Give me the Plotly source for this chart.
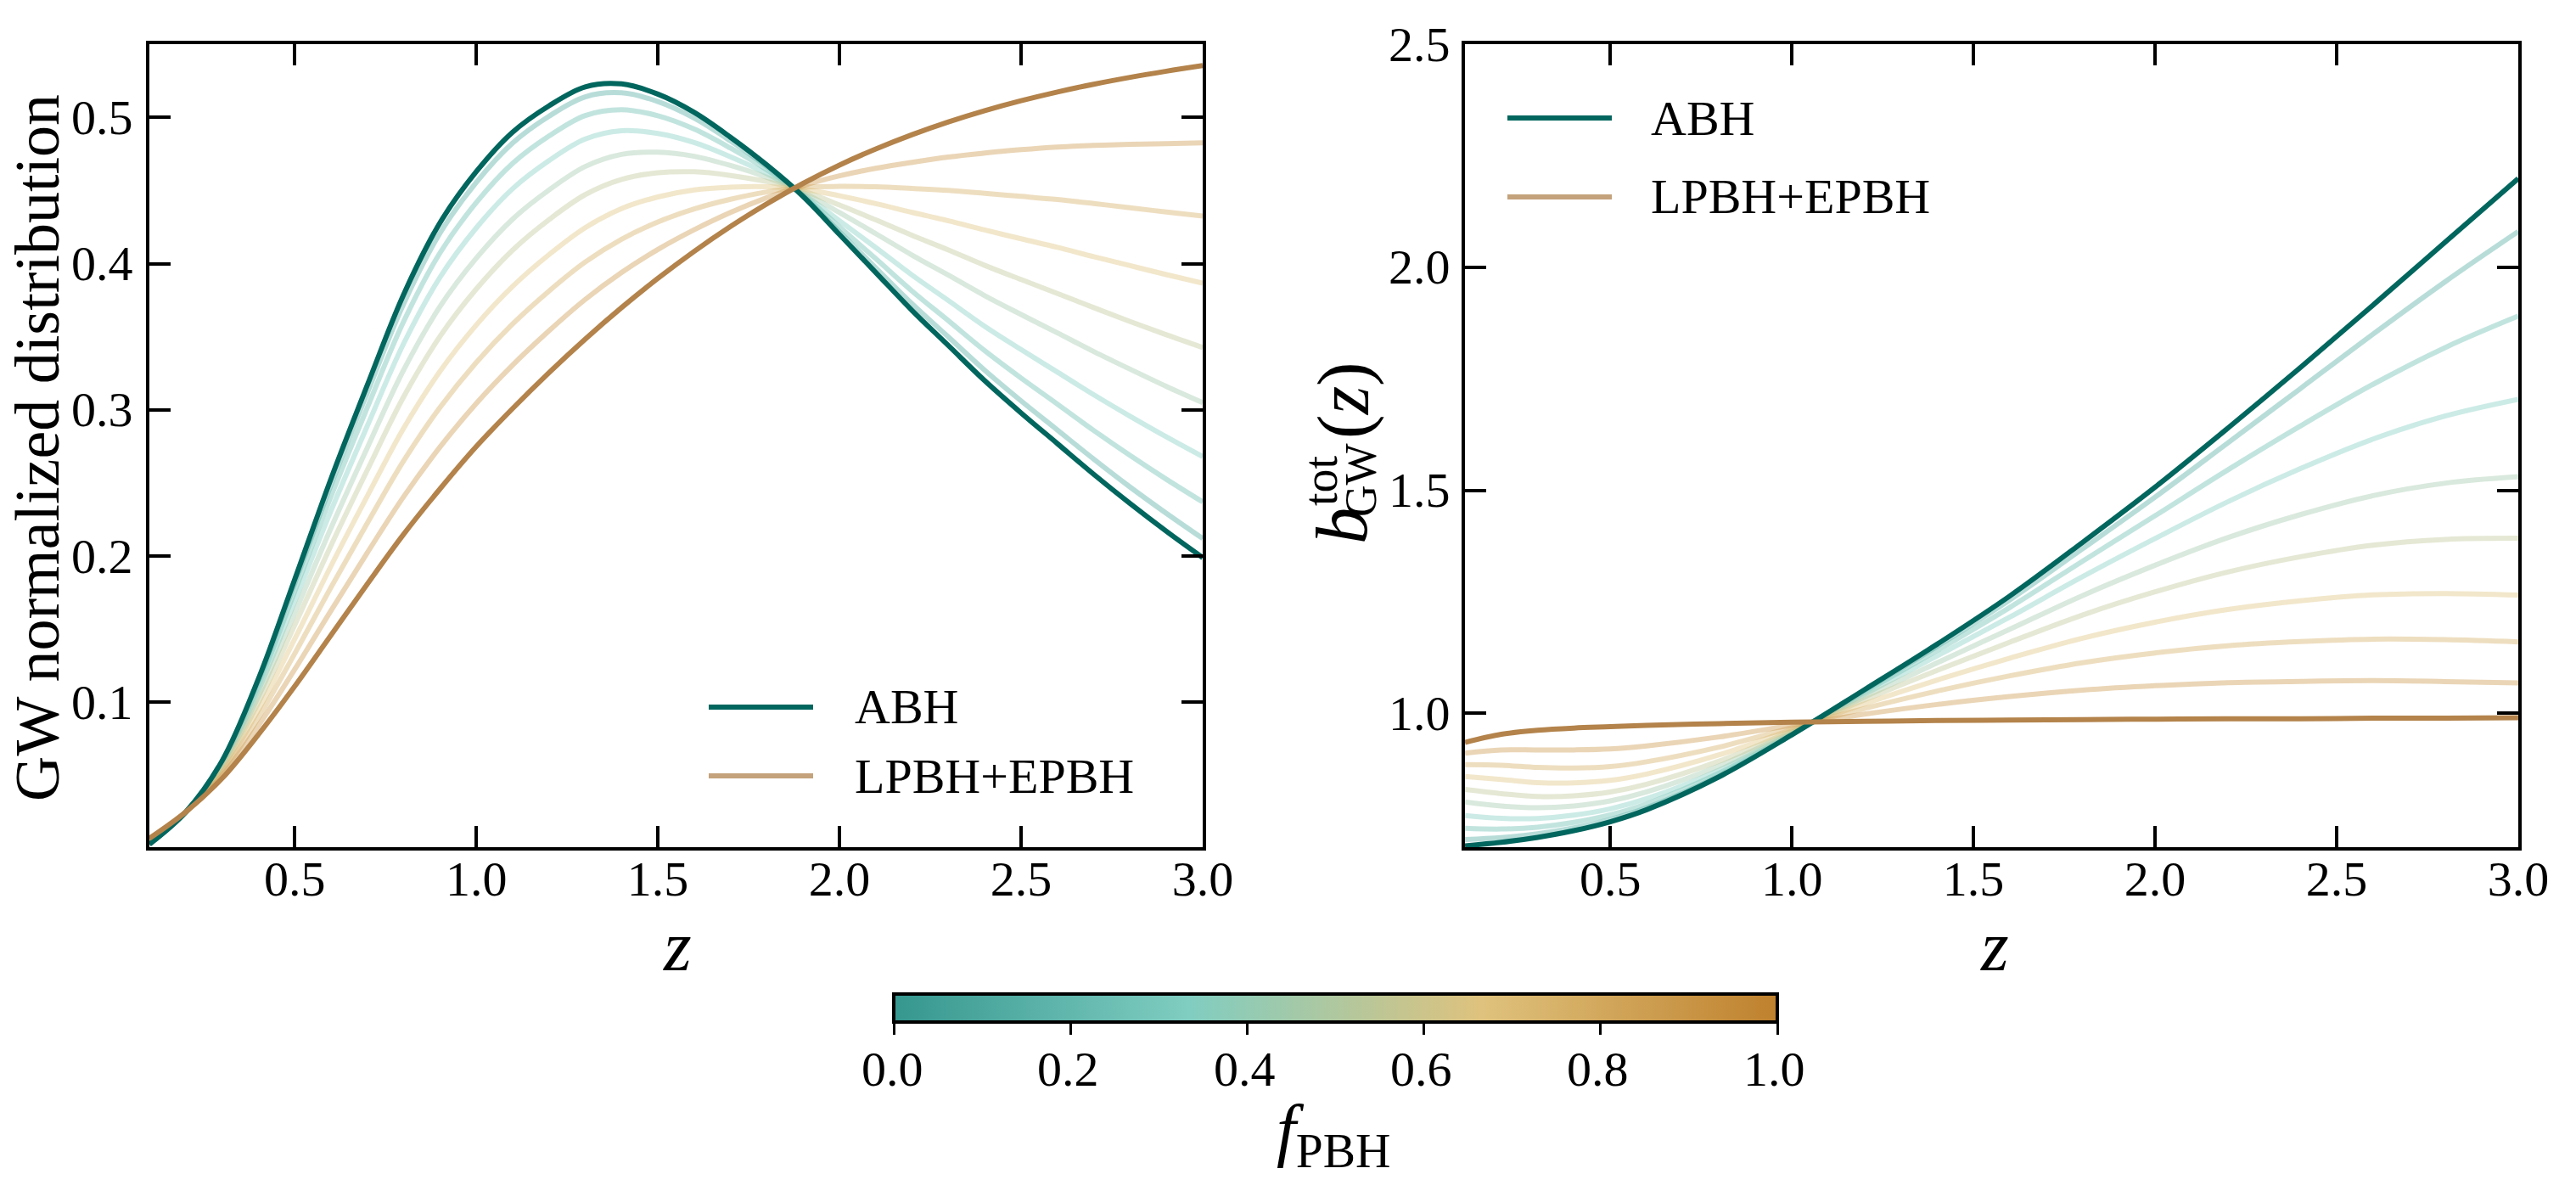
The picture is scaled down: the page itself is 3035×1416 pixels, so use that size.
import plotly.graph_objects as go

W, H = 3035, 1416
FONT = "Liberation Serif, DejaVu Serif, serif"


def px(x):
    return x / W


def py(y):
    return 1 - y / H


# ---------------- data ----------------
F_PBH = [0.0, 0.111, 0.222, 0.333, 0.444, 0.556, 0.667, 0.778, 0.889, 1.0]

# left panel: GW normalized distribution vs z
Z_L = [0.1, 0.2, 0.3, 0.4, 0.5, 0.6, 0.7, 0.8, 0.9, 1.0, 1.1, 1.2, 1.3, 1.4, 1.5,
       1.6, 1.7, 1.8, 1.9, 2.0, 2.1, 2.2, 2.3, 2.4, 2.5, 2.6, 2.7, 2.8, 2.9, 3.0]
dist_abh = [0.003, 0.025, 0.060, 0.116, 0.184, 0.253, 0.317, 0.379, 0.428, 0.463, 0.490, 0.508, 0.521, 0.523, 0.516,
            0.5035, 0.4865, 0.4675, 0.446, 0.420, 0.394, 0.368, 0.344, 0.320, 0.298, 0.277, 0.256, 0.236, 0.217, 0.199]
dist_f1 = [0.0032, 0.025, 0.0595, 0.1145, 0.1812, 0.2488, 0.3117, 0.3726, 0.4209, 0.4557, 0.4826, 0.5009, 0.5142, 0.5169, 0.5109,
           0.4996, 0.4840, 0.4664, 0.4463, 0.4218, 0.3972, 0.3726, 0.3499, 0.3271, 0.3062, 0.2863, 0.2664, 0.2473, 0.2293, 0.2121]
dist_f2 = [0.0035, 0.025, 0.0586, 0.1117, 0.1758, 0.2409, 0.3016, 0.3605, 0.4074, 0.4418, 0.4686, 0.4873, 0.5014, 0.5054, 0.5012,
           0.4921, 0.4791, 0.4643, 0.4469, 0.4252, 0.4034, 0.3813, 0.3610, 0.3405, 0.3218, 0.3040, 0.2860, 0.2689, 0.2526, 0.2371]
dist_f3 = [0.0038, 0.025, 0.0575, 0.1082, 0.1690, 0.2311, 0.2891, 0.3454, 0.3907, 0.4245, 0.4513, 0.4705, 0.4853, 0.4910, 0.4891,
           0.4829, 0.4731, 0.4616, 0.4476, 0.4294, 0.4110, 0.3922, 0.3748, 0.3572, 0.3413, 0.3259, 0.3104, 0.2957, 0.2816, 0.2681]
dist_f4 = [0.0043, 0.025, 0.0562, 0.1040, 0.1610, 0.2193, 0.2742, 0.3273, 0.3707, 0.4038, 0.4305, 0.4504, 0.4665, 0.4748, 0.4763,
           0.4735, 0.4672, 0.4591, 0.4488, 0.4350, 0.4206, 0.4059, 0.3922, 0.3782, 0.3653, 0.3527, 0.3400, 0.3279, 0.3161, 0.3050]
dist_f5 = [0.0047, 0.025, 0.0549, 0.0998, 0.1528, 0.2073, 0.2589, 0.3090, 0.3503, 0.3827, 0.4093, 0.4301, 0.4473, 0.4577, 0.4622,
           0.4629, 0.4604, 0.4562, 0.4498, 0.4402, 0.4300, 0.4194, 0.4094, 0.3989, 0.3892, 0.3797, 0.3700, 0.3605, 0.3514, 0.3427]
dist_f6 = [0.0052, 0.025, 0.0533, 0.0948, 0.1433, 0.1933, 0.2411, 0.2875, 0.3264, 0.3581, 0.3845, 0.4062, 0.4247, 0.4377, 0.4457,
           0.4505, 0.4524, 0.4527, 0.4511, 0.4465, 0.4411, 0.4351, 0.4294, 0.4231, 0.4171, 0.4112, 0.4048, 0.3987, 0.3926, 0.3867]
dist_f7 = [0.0058, 0.025, 0.0517, 0.0896, 0.1333, 0.1787, 0.2226, 0.2652, 0.3017, 0.3325, 0.3588, 0.3813, 0.4012, 0.4168, 0.4286,
           0.4375, 0.4441, 0.4491, 0.4523, 0.4529, 0.4526, 0.4515, 0.4502, 0.4482, 0.4461, 0.4439, 0.4412, 0.4383, 0.4354, 0.4326]
dist_f8 = [0.0064, 0.025, 0.0499, 0.0840, 0.1225, 0.1628, 0.2024, 0.2407, 0.2746, 0.3045, 0.3307, 0.3541, 0.3756, 0.3940, 0.4098,
           0.4233, 0.4351, 0.4452, 0.4535, 0.4601, 0.4653, 0.4694, 0.4730, 0.4757, 0.4780, 0.4798, 0.4809, 0.4817, 0.4822, 0.4827]
dist_pbh = [0.007, 0.025, 0.048, 0.078, 0.111, 0.146, 0.181, 0.215, 0.246, 0.275, 0.301, 0.3255, 0.3485, 0.370, 0.390,
            0.4085, 0.4255, 0.441, 0.455, 0.4675, 0.4785, 0.4883, 0.497, 0.5047, 0.5115, 0.5175, 0.5228, 0.5275, 0.5317, 0.5355]

# right panel: total GW bias b_GW^tot(z) vs z
Z_R = [0.1, 0.2, 0.3, 0.4, 0.5, 0.6, 0.8, 1.0, 1.2, 1.4, 1.6, 1.8, 2.0, 2.2, 2.4, 2.6, 2.8, 3.0]
bias_abh = [0.703, 0.711, 0.722, 0.737, 0.757, 0.784, 0.858, 0.952, 1.053, 1.155, 1.263, 1.383, 1.507, 1.639, 1.775, 1.915, 2.057, 2.199]
bias_f1 = [0.7171, 0.7213, 0.7298, 0.7433, 0.7622, 0.7883, 0.8606, 0.9527, 1.0512, 1.1503, 1.2543, 1.3686, 1.4847, 1.6060, 1.7279, 1.8500, 1.9683, 2.0800]
bias_f2 = [0.7423, 0.7407, 0.7449, 0.7556, 0.7724, 0.7970, 0.8659, 0.9540, 1.0477, 1.1410, 1.2374, 1.3409, 1.4429, 1.5456, 1.6440, 1.7375, 1.8204, 1.8905]
bias_f3 = [0.7708, 0.7645, 0.7643, 0.7717, 0.7859, 0.8086, 0.8729, 0.9557, 1.0430, 1.1288, 1.2157, 1.3061, 1.3918, 1.4742, 1.5485, 1.6147, 1.6667, 1.7039]
bias_f4 = [0.8013, 0.7923, 0.7883, 0.7924, 0.8037, 0.8238, 0.8822, 0.9580, 1.0369, 1.1133, 1.1885, 1.2639, 1.3319, 1.3937, 1.4454, 1.4880, 1.5160, 1.5304]
bias_f5 = [0.8292, 0.8200, 0.8137, 0.8151, 0.8236, 0.8410, 0.8928, 0.9605, 1.0301, 1.0963, 1.1595, 1.2203, 1.2723, 1.3168, 1.3510, 1.3770, 1.3899, 1.3924]
bias_f6 = [0.8582, 0.8517, 0.8448, 0.8441, 0.8497, 0.8639, 0.9070, 0.9639, 1.0214, 1.0747, 1.1237, 1.1684, 1.2043, 1.2327, 1.2523, 1.2655, 1.2686, 1.2650]
bias_f7 = [0.8849, 0.8838, 0.8787, 0.8773, 0.8806, 0.8914, 0.9243, 0.9680, 1.0110, 1.0500, 1.0841, 1.1135, 1.1354, 1.1515, 1.1608, 1.1663, 1.1651, 1.1602]
bias_f8 = [0.9108, 0.9180, 0.9180, 0.9181, 0.9202, 0.9271, 0.9471, 0.9733, 0.9981, 1.0199, 1.0377, 1.0521, 1.0620, 1.0688, 1.0716, 1.0732, 1.0712, 1.0683]
bias_pbh = [0.935, 0.953, 0.962, 0.967, 0.970, 0.973, 0.977, 0.980, 0.982, 0.984, 0.985, 0.986, 0.987, 0.988, 0.988, 0.989, 0.989, 0.990]

DIST_MID = [dist_f1, dist_f2, dist_f3, dist_f4, dist_f5, dist_f6, dist_f7, dist_f8]
BIAS_MID = [bias_f1, bias_f2, bias_f3, bias_f4, bias_f5, bias_f6, bias_f7, bias_f8]

X_TICKS = [0.5, 1.0, 1.5, 2.0, 2.5, 3.0]
X_TICK_TEXT = ["0.5", "1.0", "1.5", "2.0", "2.5", "3.0"]
Y1_TICKS = [0.1, 0.2, 0.3, 0.4, 0.5]
Y1_TICK_TEXT = ["0.1", "0.2", "0.3", "0.4", "0.5"]
Y2_TICKS = [1.0, 1.5, 2.0, 2.5]
Y2_TICK_TEXT = ["1.0", "1.5", "2.0", "2.5"]
CB_TICKS = [0.0, 0.2, 0.4, 0.6, 0.8, 1.0]
CB_TICK_TEXT = ["0.0", "0.2", "0.4", "0.6", "0.8", "1.0"]

# ---------------- style ----------------
CMAP = [(0.0, (53, 151, 143)), (1 / 3, (128, 205, 193)), (2 / 3, (223, 194, 125)), (1.0, (191, 129, 45))]
ABH_COLOR = "#01665e"
PBH_COLOR = "#b3834b"
PBH_LEGEND = "#c4a27b"
LW = 6
SMOOTH = 1.0


def cmap_rgb(f):
    for (a, ca), (b, cb) in zip(CMAP[:-1], CMAP[1:]):
        if a <= f <= b:
            t = (f - a) / (b - a)
            return tuple(ca[i] + t * (cb[i] - ca[i]) for i in range(3))
    return CMAP[-1][1]


def rgba(f, alpha):
    r, g, b = cmap_rgb(f)
    return f"rgba({r:.0f},{g:.0f},{b:.0f},{alpha})"


fig = go.Figure()

for xa, ya, zz, mids, abh, pbh in (("x", "y", Z_L, DIST_MID, dist_abh, dist_pbh),
                                   ("x2", "y2", Z_R, BIAS_MID, bias_abh, bias_pbh)):
    for f, ys in zip(F_PBH[1:-1], mids):
        fig.add_trace(go.Scatter(x=zz, y=ys, mode="lines", xaxis=xa, yaxis=ya,
                                 name=f"f_PBH = {f:.2f}",
                                 line=dict(color=rgba(f, 0.4), width=LW, shape="spline", smoothing=SMOOTH),
                                 showlegend=False, hoverinfo="skip"))
    fig.add_trace(go.Scatter(x=zz, y=abh, mode="lines", xaxis=xa, yaxis=ya, name="ABH",
                             line=dict(color=ABH_COLOR, width=LW, shape="spline", smoothing=SMOOTH),
                             showlegend=False))
    fig.add_trace(go.Scatter(x=zz, y=pbh, mode="lines", xaxis=xa, yaxis=ya, name="LPBH+EPBH",
                             line=dict(color=PBH_COLOR, width=LW, shape="spline", smoothing=SMOOTH),
                             showlegend=False))

# colorbar (tick labels drawn as annotations below for exact placement)
CB_X0, CB_X1 = 1051, 2090
CS = [[s, "rgb(%d,%d,%d)" % c] for s, c in CMAP]
fig.add_trace(go.Scatter(
    x=[None, None], y=[None, None], mode="markers", xaxis="x", yaxis="y",
    marker=dict(color=[0, 1], cmin=0, cmax=1, colorscale=CS, showscale=True,
                colorbar=dict(orientation="h", x=px((CB_X0 + CB_X1) / 2 + 3), xanchor="center", xref="paper",
                              y=py(1171), yanchor="top", yref="paper",
                              len=(CB_X1 - CB_X0 + 2) / W, lenmode="fraction",
                              thickness=33, thicknessmode="pixels",
                              outlinewidth=4, outlinecolor="black",
                              tickmode="array", tickvals=CB_TICKS, ticktext=CB_TICK_TEXT,
                              showticklabels=False,
                              ticks="outside", ticklen=13, tickwidth=3, tickcolor="black",
                              tickfont=dict(size=58, family=FONT, color="black"),
                              xpad=0, ypad=0, borderwidth=0)),
    showlegend=False, hoverinfo="skip"))

axis_common = dict(showline=True, linewidth=4, linecolor="black", mirror="allticks",
                   ticks="inside", ticklen=25, tickwidth=3.5, tickcolor="black",
                   showgrid=False, zeroline=False, tickmode="array",
                   tickfont=dict(size=58, family=FONT, color="black"))

fig.update_layout(
    width=W, height=H, margin=dict(l=0, r=0, t=0, b=0, pad=0, autoexpand=False),
    paper_bgcolor="white", plot_bgcolor="white", showlegend=False,
    font=dict(family=FONT, color="black"),
    xaxis=dict(domain=[px(176), px(1417)], anchor="y", range=[0.1, 3.0],
               tickvals=X_TICKS, ticktext=X_TICK_TEXT, ticklabelstandoff=-17, **axis_common),
    yaxis=dict(domain=[py(998), py(52)], anchor="x", range=[0.001, 0.5502],
               tickvals=Y1_TICKS, ticktext=Y1_TICK_TEXT, showticklabels=False, **axis_common),
    xaxis2=dict(domain=[px(1726), px(2967)], anchor="y2", range=[0.1, 3.0],
                tickvals=X_TICKS, ticktext=X_TICK_TEXT, ticklabelstandoff=-17, **axis_common),
    yaxis2=dict(domain=[py(998), py(52)], anchor="x2", range=[0.7, 2.5],
                tickvals=Y2_TICKS, ticktext=Y2_TICK_TEXT, showticklabels=False, **axis_common),
)

ann = []
shapes = []


def text(s, x, y, size, angle=0, xanchor="center", yanchor="middle"):
    ann.append(dict(text=s, x=px(x), y=py(y), xref="paper", yref="paper", showarrow=False,
                    textangle=angle, xanchor=xanchor, yanchor=yanchor,
                    font=dict(size=size, family=FONT, color="black")))


# y tick labels, placed on the data scale of each y axis
for yref, xr, vals, labels in (("y", 159, Y1_TICKS, Y1_TICK_TEXT), ("y2", 1711, Y2_TICKS, Y2_TICK_TEXT)):
    for v, t in zip(vals, labels):
        ann.append(dict(text=t, x=px(xr), y=v, xref="paper", yref=yref, showarrow=False,
                        xanchor="right", yanchor="middle",
                        font=dict(size=58, family=FONT, color="black")))

# axis titles
text("GW normalized distribution", 44, 528, 74, angle=-90)
text("<i>z</i>", 798, 1114, 84)
text("<i>z</i>", 2350, 1114, 84)
# b_GW^tot(z)
text("<i>b</i>", 1581, 620, 86, angle=-90)
text("tot", 1556, 566, 56, angle=-90)
text("GW", 1603, 566, 52, angle=-90)
text("(<i>z</i>)", 1583, 472, 86, angle=-90)
# colorbar tick labels and title
for v, t in zip(CB_TICKS, CB_TICK_TEXT):
    text(t, CB_X0 + v * (CB_X1 - CB_X0), 1259, 58)
text("<i>f</i><sub>PBH</sub>", 1571, 1336, 82)

# legends (one per panel)
for (lx0, lx1, tx, ya, yb) in ((835, 958, 1005, 833, 914), (1776, 1899, 1943, 139, 232)):
    shapes.append(dict(type="line", xref="paper", yref="paper", x0=px(lx0), x1=px(lx1),
                       y0=py(ya), y1=py(ya), line=dict(color=ABH_COLOR, width=6)))
    shapes.append(dict(type="line", xref="paper", yref="paper", x0=px(lx0), x1=px(lx1),
                       y0=py(yb), y1=py(yb), line=dict(color=PBH_LEGEND, width=6)))
    text("ABH", tx, ya, 58, xanchor="left")
    text("LPBH+EPBH", tx, yb, 58, xanchor="left")

fig.update_layout(annotations=ann, shapes=shapes)

fig.write_html("out.html", config={"displayModeBar": False})
